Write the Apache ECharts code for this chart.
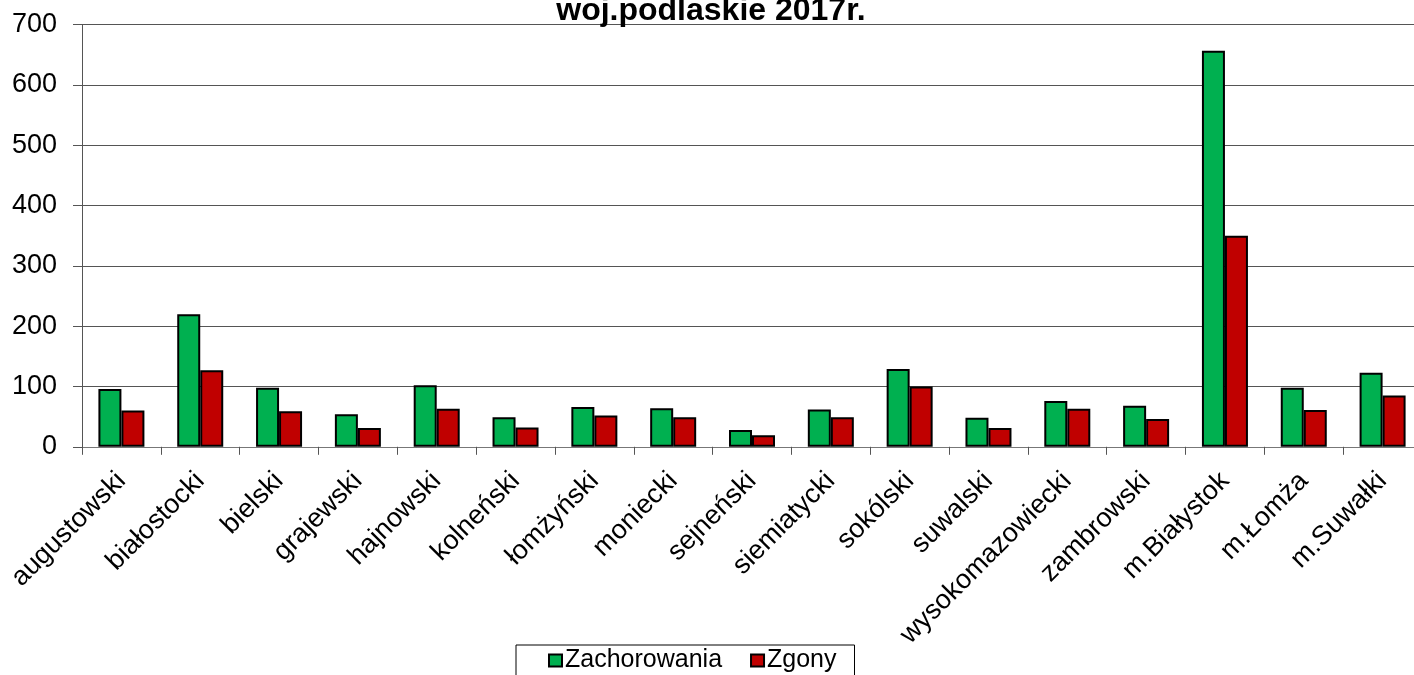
<!DOCTYPE html>
<html>
<head>
<meta charset="utf-8">
<title>woj.podlaskie 2017r.</title>
<script src="https://cdn.jsdelivr.net/npm/echarts@6/dist/echarts.min.js"></script>
<style>
  html, body { margin: 0; padding: 0; background: #fff; overflow: hidden; }
  #chart { width: 1422px; height: 675px; }
</style>
</head>
<body>
<div id="chart"></div>
<script>
// powiaty i miasta na prawach powiatu
const categories = [
  'augustowski', 'białostocki', 'bielski', 'grajewski', 'hajnowski',
  'kolneński', 'łomżyński', 'moniecki', 'sejneński', 'siemiatycki',
  'sokólski', 'suwalski', 'wysokomazowiecki', 'zambrowski',
  'm.Białystok', 'm.Łomża', 'm.Suwałki'
]
const zachorowania = [96, 220, 98, 54, 102, 49, 66, 64, 28, 62, 129, 48, 76, 68, 657, 98, 123]
const zgony = [60, 127, 59, 31, 63, 32, 52, 49, 19, 49, 100, 31, 63, 46, 350, 61, 85]
const yTicks = [0, 100, 200, 300, 400, 500, 600, 700]

const font = 'Arial, "Liberation Sans", sans-serif'

const chart = echarts.init(document.getElementById('chart'))
chart.setOption({
  animation: false,
  title: {
    text: 'woj.podlaskie 2017r.',
    left: 'center',
    top: -10,
    textStyle: { fontFamily: font, fontSize: 32, fontWeight: 'bold', color: '#000' }
  },
  legend: {
    top: 645,
    left: 516,
    padding: [3, 18, 8, 32],
    borderColor: '#000',
    borderWidth: 1,
    itemWidth: 13,
    itemHeight: 12,
    itemGap: 28,
    icon: 'rect',
    textStyle: { fontFamily: font, fontSize: 25, color: '#000', padding: [0, 0, 0, -2] }
  },
  grid: {
    left: 82,
    top: 24.7,
    right: 0,
    bottom: 228.2
  },
  xAxis: {
    type: 'category',
    data: categories,
    axisLine: { lineStyle: { color: '#777', width: 1 } },
    axisTick: { show: true, length: 8, lineStyle: { color: '#555' } },
    axisLabel: {
      interval: 0,
      rotate: 45,
      margin: 30,
      fontFamily: font,
      fontSize: 27,
      color: '#000'
    }
  },
  yAxis: {
    type: 'value',
    min: yTicks[0],
    max: yTicks[yTicks.length - 1],
    interval: 100,
    axisLine: { show: true, lineStyle: { color: '#555', width: 1 } },
    axisTick: { show: true, length: 9, lineStyle: { color: '#555' } },
    axisLabel: { margin: 25, fontFamily: font, fontSize: 27, color: '#000' },
    splitLine: { lineStyle: { color: '#555', width: 1 } }
  },
  series: [
    {
      name: 'Zachorowania',
      type: 'bar',
      data: zachorowania,
      barWidth: 23,
      barGap: '0%',
      itemStyle: { color: '#00B050', borderColor: '#000', borderWidth: 2 }
    },
    {
      name: 'Zgony',
      type: 'bar',
      data: zgony,
      barWidth: 23,
      itemStyle: { color: '#C00000', borderColor: '#000', borderWidth: 2 }
    }
  ]
})
</script>
</body>
</html>
